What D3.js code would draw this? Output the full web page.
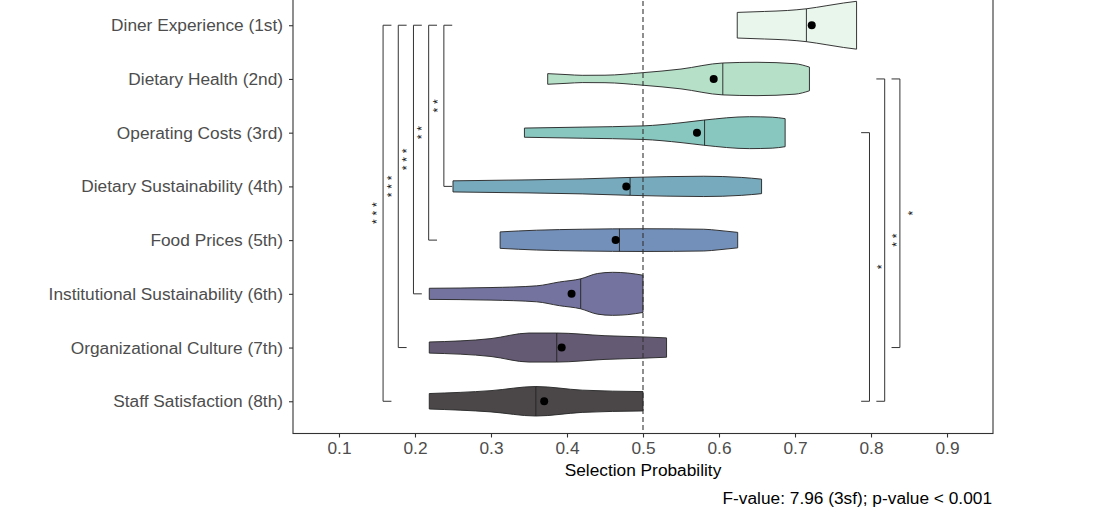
<!DOCTYPE html>
<html>
<head>
<meta charset="utf-8">
<script src="https://cdn.jsdelivr.net/npm/d3@7"></script>
<style>
  body { margin: 0; background: #fff; }
  svg text { font-family: "Liberation Sans", Arial, Helvetica, sans-serif; }
</style>
</head>
<body>
<div id="chart"></div>
<script>
var width  = 1098,
    height = 522,
    fontSize = 17.3;

////////// data //////////
var categories = [
    "Diner Experience (1st)",
    "Dietary Health (2nd)",
    "Operating Costs (3rd)",
    "Dietary Sustainability (4th)",
    "Food Prices (5th)",
    "Institutional Sustainability (6th)",
    "Organizational Culture (7th)",
    "Staff Satisfaction (8th)"
];

var fills = ["#e9f6ec", "#b6e0c8", "#88c7bf", "#78aabd", "#7390ba", "#74739f", "#645a74", "#4b4748"];

var medians = [0.715, 0.605, 0.581, 0.483, 0.469, 0.418, 0.3865, 0.359];
var means   = [0.722, 0.593, 0.571, 0.478, 0.464, 0.406, 0.393, 0.370];

// relative density (1 = widest violin) at selection probabilities, min to max
var densities = [
    [[0.624, 0.53], [0.66, 0.57], [0.69, 0.61], [0.715, 0.68], [0.742, 0.81], [0.764, 0.92], [0.781, 0.99]],
    [[0.3746, 0.22], [0.40, 0.18], [0.42, 0.15], [0.45, 0.155], [0.50, 0.26], [0.55, 0.41], [0.605, 0.66], [0.65, 0.69], [0.70, 0.63], [0.719, 0.49]],
    [[0.344, 0.19], [0.42, 0.23], [0.50, 0.28], [0.55, 0.41], [0.58, 0.52], [0.64, 0.66], [0.67, 0.64], [0.687, 0.58]],
    [[0.25, 0.23], [0.35, 0.27], [0.42, 0.31], [0.483, 0.37], [0.58, 0.42], [0.63, 0.37], [0.656, 0.30]],
    [[0.312, 0.34], [0.36, 0.41], [0.42, 0.45], [0.50, 0.47], [0.58, 0.45], [0.60, 0.40], [0.6246, 0.32]],
    [[0.2188, 0.23], [0.30, 0.26], [0.36, 0.33], [0.39, 0.49], [0.418, 0.62], [0.44, 0.84], [0.46, 0.89], [0.48, 0.86], [0.50, 0.77]],
    [[0.2188, 0.23], [0.30, 0.37], [0.35, 0.60], [0.3865, 0.60], [0.45, 0.49], [0.50, 0.44], [0.531, 0.40]],
    [[0.2188, 0.32], [0.30, 0.44], [0.359, 0.61], [0.42, 0.46], [0.50, 0.40]]
];

// pairwise comparisons (brackets)
var sigFrom  = [0, 0, 0, 0, 0, 2, 1, 1];
var sigTo    = [3, 4, 5, 6, 7, 7, 7, 6];
var sigPos   = [0.238, 0.218, 0.198, 0.178, 0.158, 0.798, 0.818, 0.838];
var sigLabel = ["**", "**", "***", "***", "***", "*", "**", "*"];

var xTicks = [0.1, 0.2, 0.3, 0.4, 0.5, 0.6, 0.7, 0.8, 0.9];
var refLine = 0.5;
var xTitle = "Selection Probability";
var caption = "F-value: 7.96 (3sf); p-value < 0.001";

////////// layout //////////
var panel = {left: 293, right: 993, top: -7, bottom: 433.5};

var x = d3.scaleLinear()
    .domain([0.0395, 0.9605])
    .range([panel.left, panel.right]);

var y = d3.scalePoint()
    .domain(categories)
    .range([panel.top, panel.bottom])
    .padding(0.6);

var halfWidth = d3.scaleLinear()
    .domain([0, 1])
    .range([0, 0.45 * y.step()]);

var svg = d3.select("#chart").append("svg")
    .attr("width", width)
    .attr("height", height);

var defs = svg.append("defs");

// ====================== violins ======================
var violins = svg.append("g").attr("class", "violins");

categories.forEach(function(cat, i){
    var yc = y(cat);
    var area = d3.area()
        .x(function(d){ return x(d[0]); })
        .y0(function(d){ return yc - halfWidth(d[1]); })
        .y1(function(d){ return yc + halfWidth(d[1]); })
        .curve(d3.curveMonotoneX);

    var shape = area(densities[i]);

    defs.append("clipPath")
        .attr("id", "vclip" + i)
        .append("path")
        .attr("d", shape);

    violins.append("path")
        .attr("d", shape)
        .attr("fill", fills[i])
        .attr("stroke", "#2b2b2b")
        .attr("stroke-width", 0.95);

    //median line, clipped to the violin outline
    violins.append("line")
        .attr("clip-path", "url(#vclip" + i + ")")
        .attr("x1", x(medians[i]))
        .attr("x2", x(medians[i]))
        .attr("y1", yc - y.step() / 2)
        .attr("y2", yc + y.step() / 2)
        .attr("stroke", "#222")
        .attr("stroke-width", 0.9);
});

// reference line at 0.5
svg.append("line")
    .attr("x1", x(refLine))
    .attr("x2", x(refLine))
    .attr("y1", panel.top)
    .attr("y2", panel.bottom)
    .attr("stroke", "#333")
    .attr("stroke-width", 1.1)
    .attr("stroke-dasharray", "5,3");

// mean points
svg.append("g")
    .selectAll("circle")
    .data(means).enter()
    .append("circle")
    .attr("cx", function(d){ return x(d); })
    .attr("cy", function(d, i){ return y(categories[i]); })
    .attr("r", 4)
    .attr("fill", "#000");

// ====================== significance brackets ======================
var tip = 0.011,
    labelGap = 9.5,
    starPitch = 8.5;

var brackets = svg.append("g").attr("class", "brackets");

sigPos.forEach(function(pos, i){
    var leftSide = pos < refLine,
        dir = leftSide ? 1 : -1,        //tips point towards the violins
        y1 = y(categories[sigFrom[i]]),
        y2 = y(categories[sigTo[i]]),
        xl = x(pos),
        xt = x(pos + dir * tip);

    brackets.append("path")
        .attr("d", "M" + xt + "," + y1 + "H" + xl + "V" + y2 + "H" + xt)
        .attr("fill", "none")
        .attr("stroke", "#333")
        .attr("stroke-width", 1);

    var lx = xl - dir * labelGap,
        ly = (y1 + y2) / 2,
        n = sigLabel[i].length;

    //one rotated glyph per star, the asterisk sits high in its em box
    sigLabel[i].split("").forEach(function(ch, k){
        var cy = ly + (k - (n - 1) / 2) * starPitch;
        brackets.append("text")
            .attr("transform", "translate(" + lx + "," + cy + ") rotate(-90)")
            .attr("text-anchor", "middle")
            .attr("dy", "0.6em")
            .attr("font-size", 12)
            .attr("font-family", "DejaVu Sans, sans-serif")
            .attr("fill", "#111")
            .text(ch);
    });
});

// ====================== panel + axes ======================
svg.append("rect")
    .attr("x", panel.left)
    .attr("y", panel.top)
    .attr("width", panel.right - panel.left)
    .attr("height", panel.bottom - panel.top)
    .attr("fill", "none")
    .attr("stroke", "#333")
    .attr("stroke-width", 1.1);

var xAxis = svg.append("g")
    .attr("transform", "translate(0," + panel.bottom + ")")
    .call(d3.axisBottom(x).tickValues(xTicks).tickSize(4).tickPadding(4).tickFormat(d3.format(".1f")));

var yAxis = svg.append("g")
    .attr("transform", "translate(" + panel.left + ",0)")
    .call(d3.axisLeft(y).tickSize(4).tickPadding(6));

[xAxis, yAxis].forEach(function(ax){
    ax.select(".domain").remove();
    ax.selectAll(".tick line").attr("stroke", "#333").attr("stroke-width", 1.1);
    ax.selectAll(".tick text")
        .attr("fill", "#4d4d4d")
        .attr("font-size", fontSize)
        .attr("font-family", "Liberation Sans, Arial, sans-serif");
});

svg.append("text")
    .attr("x", (panel.left + panel.right) / 2)
    .attr("y", 476)
    .attr("text-anchor", "middle")
    .attr("font-size", fontSize)
    .attr("fill", "#000")
    .text(xTitle);

svg.append("text")
    .attr("x", panel.right - 1)
    .attr("y", 504)
    .attr("text-anchor", "end")
    .attr("font-size", fontSize)
    .attr("fill", "#000")
    .text(caption);
</script>
</body>
</html>
